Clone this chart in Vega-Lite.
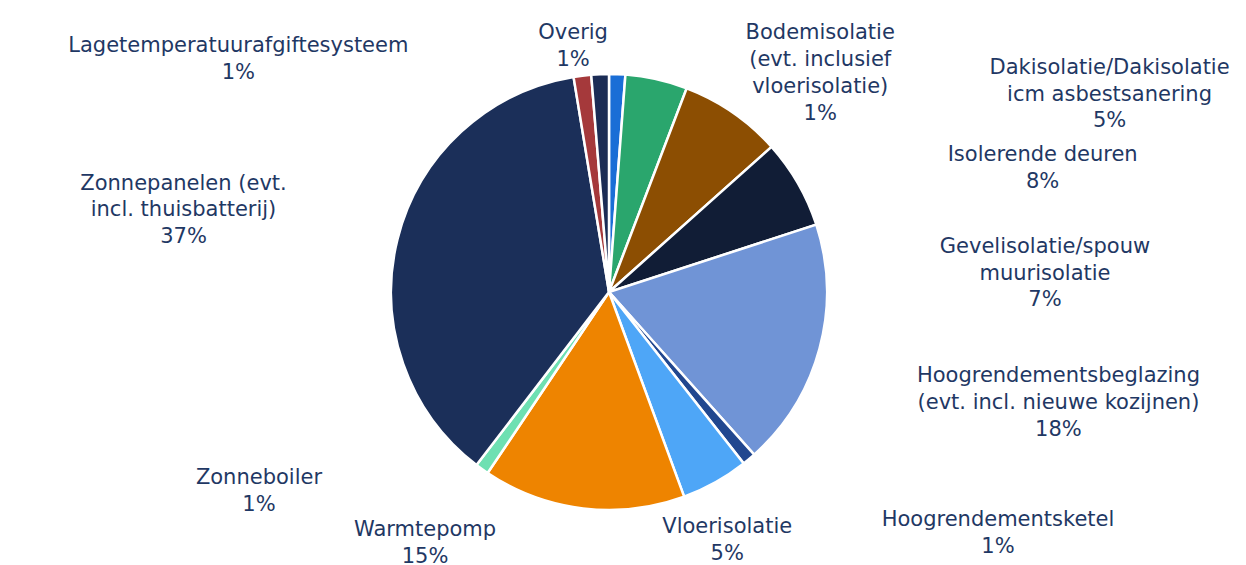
{
  "$schema": "https://vega.github.io/schema/vega-lite/v6.json",
  "width": 1218,
  "height": 546,
  "autosize": "none",
  "padding": {"left": 0, "top": 19, "right": 28, "bottom": 0},
  "background": "white",
  "config": {"view": {"stroke": null}},
  "data": {
    "values": [
      {"cat": "Bodemisolatie", "value": 1.2, "label": "Bodemisolatie\n(evt. inclusief\nvloerisolatie)\n1%"},
      {"cat": "Dakisolatie", "value": 4.6, "label": "Dakisolatie/Dakisolatie\nicm asbestsanering\n5%"},
      {"cat": "Isolerende deuren", "value": 7.6, "label": "Isolerende deuren\n8%"},
      {"cat": "Gevelisolatie", "value": 6.6, "label": "Gevelisolatie/spouw\nmuurisolatie\n7%"},
      {"cat": "Hoogrendementsbeglazing", "value": 18.4, "label": "Hoogrendementsbeglazing\n(evt. incl. nieuwe kozijnen)\n18%"},
      {"cat": "Hoogrendementsketel", "value": 1.0, "label": "Hoogrendementsketel\n1%"},
      {"cat": "Vloerisolatie", "value": 5.0, "label": "Vloerisolatie\n5%"},
      {"cat": "Warmtepomp", "value": 15.0, "label": "Warmtepomp\n15%"},
      {"cat": "Zonneboiler", "value": 1.0, "label": "Zonneboiler\n1%"},
      {"cat": "Zonnepanelen", "value": 37.0, "label": "Zonnepanelen (evt.\nincl. thuisbatterij)\n37%"},
      {"cat": "Lagetemperatuurafgiftesysteem", "value": 1.3, "label": "Lagetemperatuurafgiftesysteem\n1%"},
      {"cat": "Overig", "value": 1.3, "label": "Overig\n1%"}
    ]
  },
  "transform": [{"window": [{"op": "row_number", "as": "idx"}]}],
  "encoding": {
    "theta": {"field": "value", "type": "quantitative", "stack": true, "scale": {"domain": [0, 100]}},
    "order": {"field": "idx", "type": "quantitative"}
  },
  "layer": [
    {
      "mark": {"type": "arc", "outerRadius": 218, "stroke": "white", "strokeWidth": 2.5},
      "encoding": {
        "color": {
          "field": "cat", "type": "nominal", "legend": null,
          "scale": {
            "domain": ["Bodemisolatie", "Dakisolatie", "Isolerende deuren", "Gevelisolatie", "Hoogrendementsbeglazing", "Hoogrendementsketel", "Vloerisolatie", "Warmtepomp", "Zonneboiler", "Zonnepanelen", "Lagetemperatuurafgiftesysteem", "Overig"],
            "range": ["#1a6ed6", "#2aa66d", "#8c4e02", "#111d36", "#7094d6", "#21478f", "#4ea6f7", "#ee8400", "#6ee0b2", "#1b2f59", "#a5393b", "#1b2c55"]
          }
        }
      }
    },
    {"mark": {"type": "text", "radius": 218, "dx": 203, "dy": -41, "font": "DejaVu Sans", "fontSize": 21, "lineHeight": 26.8, "lineBreak": "\n", "color": "#1f3864", "align": "center", "baseline": "middle"},
     "encoding": {"text": {"condition": {"test": "datum.cat === 'Bodemisolatie'", "field": "label"}, "value": ""}}},
    {"mark": {"type": "text", "radius": 218, "dx": 453, "dy": -11.5, "font": "DejaVu Sans", "fontSize": 21, "lineHeight": 26.8, "lineBreak": "\n", "color": "#1f3864", "align": "center", "baseline": "middle"},
     "encoding": {"text": {"condition": {"test": "datum.cat === 'Dakisolatie'", "field": "label"}, "value": ""}}},
    {"mark": {"type": "text", "radius": 218, "dx": 310, "dy": 42.75, "font": "DejaVu Sans", "fontSize": 21, "lineHeight": 26.8, "lineBreak": "\n", "color": "#1f3864", "align": "center", "baseline": "middle"},
     "encoding": {"text": {"condition": {"test": "datum.cat === 'Isolerende deuren'", "field": "label"}, "value": ""}}},
    {"mark": {"type": "text", "radius": 218, "dx": 247, "dy": 63.5, "font": "DejaVu Sans", "fontSize": 21, "lineHeight": 26.8, "lineBreak": "\n", "color": "#1f3864", "align": "center", "baseline": "middle"},
     "encoding": {"text": {"condition": {"test": "datum.cat === 'Gevelisolatie'", "field": "label"}, "value": ""}}},
    {"mark": {"type": "text", "radius": 218, "dx": 239, "dy": 27.5, "font": "DejaVu Sans", "fontSize": 21, "lineHeight": 26.8, "lineBreak": "\n", "color": "#1f3864", "align": "center", "baseline": "middle"},
     "encoding": {"text": {"condition": {"test": "datum.cat === 'Hoogrendementsbeglazing'", "field": "label"}, "value": ""}}},
    {"mark": {"type": "text", "radius": 218, "dx": 249, "dy": 60.75, "font": "DejaVu Sans", "fontSize": 21, "lineHeight": 26.8, "lineBreak": "\n", "color": "#1f3864", "align": "center", "baseline": "middle"},
     "encoding": {"text": {"condition": {"test": "datum.cat === 'Hoogrendementsketel'", "field": "label"}, "value": ""}}},
    {"mark": {"type": "text", "radius": 218, "dx": 12, "dy": 44.75, "font": "DejaVu Sans", "fontSize": 21, "lineHeight": 26.8, "lineBreak": "\n", "color": "#1f3864", "align": "center", "baseline": "middle"},
     "encoding": {"text": {"condition": {"test": "datum.cat === 'Vloerisolatie'", "field": "label"}, "value": ""}}},
    {"mark": {"type": "text", "radius": 218, "dx": -158, "dy": 21.75, "font": "DejaVu Sans", "fontSize": 21, "lineHeight": 26.8, "lineBreak": "\n", "color": "#1f3864", "align": "center", "baseline": "middle"},
     "encoding": {"text": {"condition": {"test": "datum.cat === 'Warmtepomp'", "field": "label"}, "value": ""}}},
    {"mark": {"type": "text", "radius": 218, "dx": -223, "dy": 8.75, "font": "DejaVu Sans", "fontSize": 21, "lineHeight": 26.8, "lineBreak": "\n", "color": "#1f3864", "align": "center", "baseline": "middle"},
     "encoding": {"text": {"condition": {"test": "datum.cat === 'Zonneboiler'", "field": "label"}, "value": ""}}},
    {"mark": {"type": "text", "radius": 218, "dx": -214, "dy": -55.5, "font": "DejaVu Sans", "fontSize": 21, "lineHeight": 26.8, "lineBreak": "\n", "color": "#1f3864", "align": "center", "baseline": "middle"},
     "encoding": {"text": {"condition": {"test": "datum.cat === 'Zonnepanelen'", "field": "label"}, "value": ""}}},
    {"mark": {"type": "text", "radius": 218, "dx": -344, "dy": -29.25, "font": "DejaVu Sans", "fontSize": 21, "lineHeight": 26.8, "lineBreak": "\n", "color": "#1f3864", "align": "center", "baseline": "middle"},
     "encoding": {"text": {"condition": {"test": "datum.cat === 'Lagetemperatuurafgiftesysteem'", "field": "label"}, "value": ""}}},
    {"mark": {"type": "text", "radius": 218, "dx": -27, "dy": -41.25, "font": "DejaVu Sans", "fontSize": 21, "lineHeight": 26.8, "lineBreak": "\n", "color": "#1f3864", "align": "center", "baseline": "middle"},
     "encoding": {"text": {"condition": {"test": "datum.cat === 'Overig'", "field": "label"}, "value": ""}}}
  ]
}
